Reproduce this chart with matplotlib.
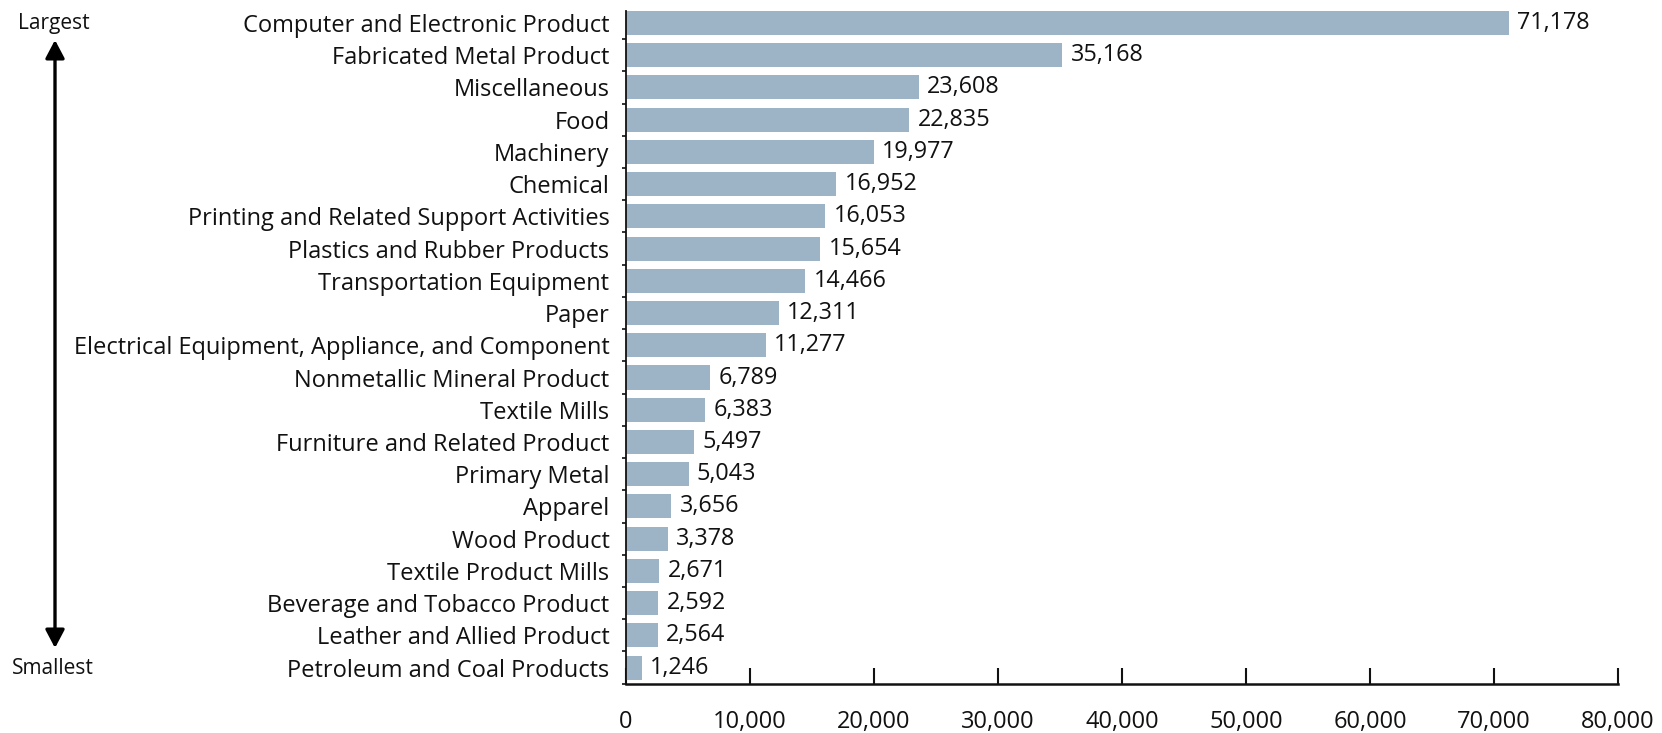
import matplotlib
matplotlib.use("Agg")
import matplotlib.pyplot as plt
from matplotlib.patches import FancyArrowPatch, ArrowStyle
from matplotlib.ticker import FuncFormatter, FixedLocator

plt.rcParams['font.family'] = ['Open Sans', 'DejaVu Sans']

# Manufacturing subsectors, largest to smallest
categories = [
    "Computer and Electronic Product",
    "Fabricated Metal Product",
    "Miscellaneous",
    "Food",
    "Machinery",
    "Chemical",
    "Printing and Related Support Activities",
    "Plastics and Rubber Products",
    "Transportation Equipment",
    "Paper",
    "Electrical Equipment, Appliance, and Component",
    "Nonmetallic Mineral Product",
    "Textile Mills",
    "Furniture and Related Product",
    "Primary Metal",
    "Apparel",
    "Wood Product",
    "Textile Product Mills",
    "Beverage and Tobacco Product",
    "Leather and Allied Product",
    "Petroleum and Coal Products",
]
values = [71178, 35168, 23608, 22835, 19977, 16952, 16053, 15654, 14466,
          12311, 11277, 6789, 6383, 5497, 5043, 3656, 3378, 2671, 2592,
          2564, 1246]
x_ticks = [0, 10000, 20000, 30000, 40000, 50000, 60000, 70000, 80000]

BAR_COLOR = "#9DB3C6"
TXT = "#111111"

fig = plt.figure(figsize=(16.62, 7.33), dpi=100)
ax = fig.add_axes([0.3767, 0.0668, 0.9735 - 0.3767, 0.985 - 0.0668])

n = len(categories)
ypos = [n - 1 - i for i in range(n)]
ax.barh(ypos, values, height=0.745, color=BAR_COLOR, edgecolor="none", zorder=2)

for y, v in zip(ypos, values):
    ax.annotate(f"{v:,}", xy=(v, y), xytext=(6, 0), textcoords="offset points",
                ha="left", va="center", fontsize=16.8, color=TXT)

ax.set_xlim(0, 80000)
ax.set_ylim(-0.512, n - 1 + 0.373)

ax.set_yticks(ypos)
ax.set_yticklabels(categories, fontsize=17, color=TXT)
ax.tick_params(axis="y", which="major", length=0, pad=12)
ax.yaxis.set_minor_locator(FixedLocator([y + 0.5 for y in range(-1, n)]))
ax.tick_params(axis="y", which="minor", length=3, width=1.2, direction="out", color=TXT)

ax.set_xticks(x_ticks)
ax.xaxis.set_major_formatter(FuncFormatter(lambda v, p: f"{int(v):,}"))
ax.tick_params(axis="x", which="major", direction="in", length=11.5, width=1.5,
               pad=18.5, labelsize=17, color=TXT, labelcolor=TXT)

for side in ("top", "right"):
    ax.spines[side].set_visible(False)
ax.spines["left"].set_linewidth(1.3)
ax.spines["bottom"].set_linewidth(1.8)
ax.spines["left"].set_color(TXT)
ax.spines["bottom"].set_color(TXT)

# Ranking arrow on the far left
W, H = 1662, 733
arrow = FancyArrowPatch((55 / W, 1 - 648 / H), (55 / W, 1 - 40 / H),
                        transform=fig.transFigure,
                        arrowstyle=ArrowStyle("<|-|>", head_length=11, head_width=5.8),
                        mutation_scale=1, linewidth=2.4, color="black",
                        shrinkA=0, shrinkB=0)
fig.patches.append(arrow)
fig.text(54 / W, 1 - 24 / H, "Largest", ha="center", va="center", fontsize=15, color=TXT)
fig.text(53 / W, 1 - 668 / H, "Smallest", ha="center", va="center", fontsize=15, color=TXT)

fig.savefig("out.png", dpi=100)
